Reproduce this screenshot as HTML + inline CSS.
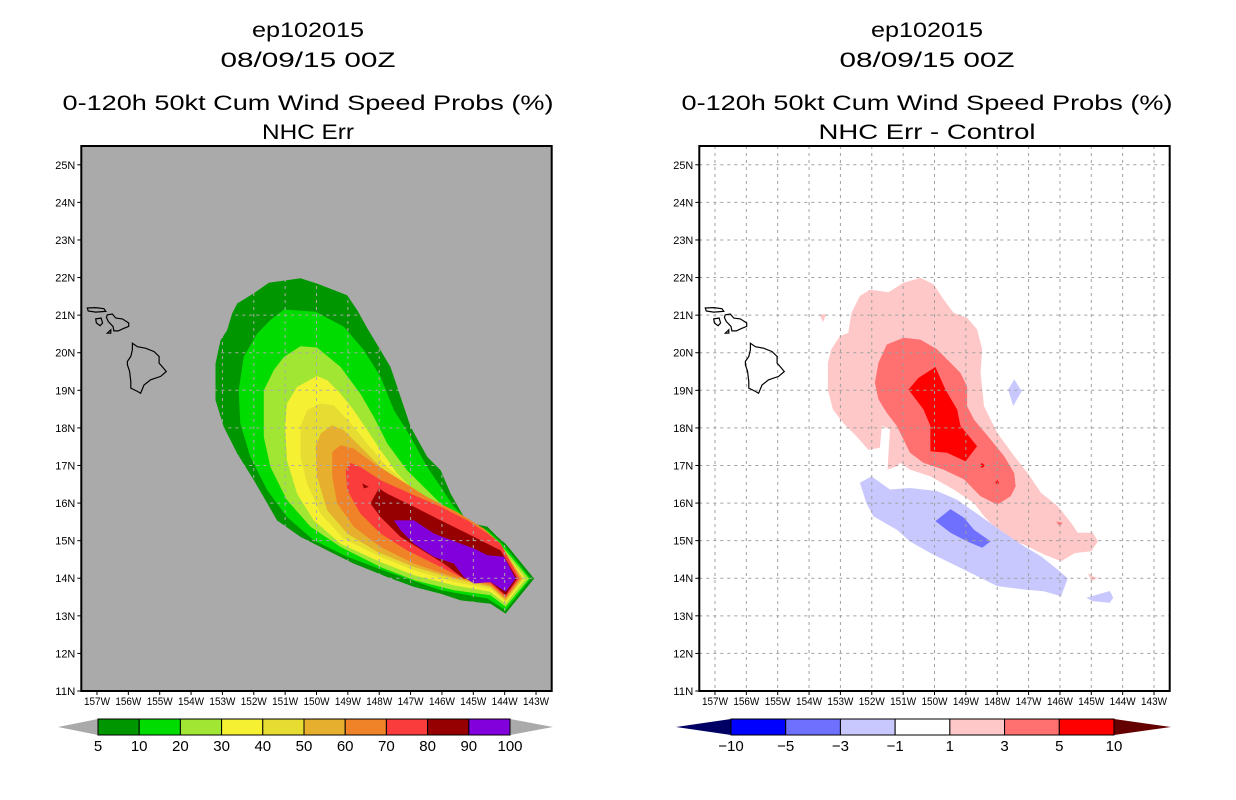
<!DOCTYPE html>
<html><head><meta charset="utf-8"><style>
html,body{margin:0;padding:0;background:#fff;}
svg{display:block;font-family:"Liberation Sans",sans-serif;}
</style></head><body>
<svg id="chart" width="1236" height="800" viewBox="0 0 1236 800" xmlns="http://www.w3.org/2000/svg">
<g font-size="21" text-anchor="middle">
<text x="308" y="37" textLength="112" lengthAdjust="spacingAndGlyphs">ep102015</text>
<text x="308" y="67" textLength="175" lengthAdjust="spacingAndGlyphs">08/09/15 00Z</text>
<text x="308" y="110" textLength="491" lengthAdjust="spacingAndGlyphs">0-120h 50kt Cum Wind Speed Probs (%)</text>
<text x="308" y="139" textLength="92" lengthAdjust="spacingAndGlyphs">NHC Err</text>
</g>
<g font-size="21" text-anchor="middle">
<text x="927" y="37" textLength="112" lengthAdjust="spacingAndGlyphs">ep102015</text>
<text x="927" y="67" textLength="175" lengthAdjust="spacingAndGlyphs">08/09/15 00Z</text>
<text x="927" y="110" textLength="491" lengthAdjust="spacingAndGlyphs">0-120h 50kt Cum Wind Speed Probs (%)</text>
<text x="927" y="139" textLength="217" lengthAdjust="spacingAndGlyphs">NHC Err - Control</text>
</g>
</svg>
<script>
// ---- data ----
const lonTicks = [157,156,155,154,153,152,151,150,149,148,147,146,145,144,143];
const latTicks = [11,12,13,14,15,16,17,18,19,20,21,22,23,24,25];
const probLevels = [5,10,20,30,40,50,60,70,80,90,100];
const probColors = ['#009600','#00dc00','#a0e632','#f5f032','#e6dc32','#e6af2d','#f08228','#fa3c3c','#960000','#8200dc'];
const diffLevels = ['-10','-5','-3','-1','1','3','5','10'];
const diffColors = ['#0000ff','#7070ff','#c8c8ff','#ffffff','#ffc8c8','#ff7070','#ff0000'];
// contour polygons [lonW, lat]
const prob5 = [[151.52,21.86],[150.51,21.98],[149.98,21.84],[149.02,21.53],[148.70,21.13],[148.38,20.65],[147.96,20.07],[147.64,19.62],[147.32,18.83],[147.00,18.03],[146.47,17.23],[146.04,16.87],[145.72,16.25],[145.30,15.63],[144.98,15.45],[144.55,15.37],[144.23,15.10],[143.97,14.92],[143.06,13.99],[143.97,13.06],[144.45,13.32],[145.40,13.41],[146.04,13.59],[146.89,13.77],[147.74,14.03],[148.81,14.39],[149.66,14.74],[150.51,15.10],[151.26,15.54],[151.57,15.99],[152.0,16.61],[152.53,17.32],[152.96,18.03],[153.22,18.74],[153.22,19.71],[153.06,20.33],[152.85,20.60],[152.69,21.04],[152.53,21.31],[152.0,21.58]];
const prob10 = [[151.04,21.15],[150.03,21.09],[149.13,20.69],[148.49,20.07],[147.96,19.36],[147.53,18.47],[147.0,17.76],[146.47,16.96],[146.04,16.43],[145.62,15.90],[145.19,15.54],[144.55,15.28],[144.02,14.88],[143.17,13.99],[143.97,13.15],[144.55,13.46],[146.04,13.68],[147.74,14.17],[149.02,14.57],[150.09,15.01],[150.94,15.63],[151.57,16.34],[152.11,17.23],[152.43,18.12],[152.48,19.0],[152.32,19.89],[151.89,20.51],[151.47,20.87]];
const prob20 = [[150.51,20.17],[149.98,20.14],[149.23,19.62],[148.60,18.91],[148.17,18.29],[147.74,17.58],[147.11,16.87],[146.47,16.34],[145.83,15.81],[145.19,15.45],[144.55,15.19],[144.07,14.83],[143.22,13.99],[143.97,13.24],[144.45,13.55],[145.62,13.68],[146.89,13.95],[147.96,14.30],[149.23,14.83],[150.19,15.37],[150.94,16.08],[151.47,16.96],[151.68,17.76],[151.68,19.0],[151.36,19.54],[151.04,19.89]];
const prob30 = [[149.98,19.38],[149.66,19.27],[149.23,18.91],[148.81,18.47],[148.38,17.94],[147.96,17.41],[147.43,16.79],[146.79,16.25],[146.04,15.81],[145.30,15.45],[144.55,15.10],[144.13,14.83],[143.33,13.99],[143.97,13.32],[144.45,13.64],[145.62,13.81],[146.89,14.08],[147.96,14.43],[149.23,14.92],[150.09,15.54],[150.62,16.25],[150.94,17.14],[151.0,18.03],[150.94,18.65],[150.62,19.09]];
const prob40 = [[149.87,18.65],[149.45,18.60],[148.91,18.12],[148.38,17.58],[147.74,16.96],[147.0,16.43],[146.26,15.99],[145.40,15.59],[144.66,15.19],[144.13,14.83],[143.38,13.99],[143.97,13.37],[144.45,13.72],[145.62,13.90],[146.89,14.21],[147.96,14.57],[149.13,15.05],[149.87,15.72],[150.30,16.52],[150.51,17.23],[150.51,18.03],[150.30,18.47]];
const prob50 = [[149.50,18.07],[149.13,17.94],[148.60,17.50],[147.96,16.96],[147.21,16.52],[146.36,16.08],[145.51,15.68],[144.66,15.28],[144.13,14.88],[143.43,13.99],[143.97,13.41],[144.45,13.77],[145.62,13.99],[146.89,14.30],[148.06,14.70],[149.02,15.19],[149.66,15.81],[149.98,16.70],[150.03,17.50],[149.87,17.85]];
const prob60 = [[149.23,17.54],[148.81,17.45],[148.17,17.05],[147.32,16.61],[146.47,16.16],[145.51,15.76],[144.66,15.32],[144.13,14.92],[143.49,13.99],[143.97,13.46],[144.45,13.81],[145.62,14.03],[146.89,14.39],[147.96,14.83],[148.81,15.37],[149.34,15.99],[149.50,16.70],[149.50,17.36]];
const prob70 = [[148.91,17.07],[148.60,16.96],[147.96,16.61],[147.0,16.25],[146.04,15.90],[145.19,15.54],[144.55,15.19],[144.13,14.92],[143.54,13.99],[143.97,13.50],[144.45,13.86],[145.40,14.03],[146.26,14.39],[147.11,14.74],[147.96,15.19],[148.60,15.72],[149.02,16.34],[149.07,16.87]];
const prob80 = [[148.01,16.39],[147.74,16.25],[146.89,15.90],[146.04,15.54],[145.19,15.19],[144.55,14.92],[144.13,14.74],[143.60,13.99],[143.97,13.55],[144.45,13.90],[145.30,13.99],[145.94,14.39],[146.47,14.66],[147.32,15.10],[147.96,15.63],[148.28,15.99]];
const prob80b = [[148.54,16.52],[148.33,16.43],[148.49,16.39]];
const prob90 = [[147.53,15.54],[146.89,15.54],[146.26,15.19],[145.40,14.92],[144.98,14.79],[144.55,14.61],[144.02,14.57],[143.65,13.99],[143.97,13.64],[144.45,13.90],[144.98,13.86],[145.30,14.03],[145.62,14.39],[146.26,14.57],[146.89,14.92],[147.32,15.28]];
const diffPos1 = [[152.06,21.68],[151.47,21.61],[150.99,21.86],[150.45,21.99],[150.03,21.82],[149.71,21.42],[149.39,21.06],[148.96,20.93],[148.64,20.62],[148.48,20.09],[148.53,19.46],[148.42,18.58],[148.0,17.87],[147.46,17.25],[147.03,16.80],[146.60,16.27],[146.07,15.92],[145.64,15.47],[145.43,15.21],[144.95,15.21],[144.79,14.98],[145.0,14.72],[145.53,14.67],[145.96,14.45],[146.50,14.63],[147.14,14.89],[147.57,15.03],[148.0,15.29],[148.42,15.65],[148.74,16.0],[149.39,16.36],[150.13,16.71],[150.78,16.89],[151.10,17.07],[151.20,16.98],[151.50,16.89],[151.42,17.96],[151.68,18.05],[151.74,17.47],[152.11,17.42],[152.49,17.78],[152.91,18.13],[153.24,18.49],[153.40,19.02],[153.40,19.73],[153.29,20.09],[153.02,20.44],[152.75,20.53],[152.65,21.06],[152.38,21.51]];
const diffPos1b = [[153.66,21.02],[153.45,21.02],[153.56,20.81]];
const diffPos1c = [[145.11,14.14],[144.95,14.05],[144.79,14.01],[145.0,13.92]];
const diffPos3 = [[151.52,20.22],[150.99,20.40],[150.45,20.35],[149.92,20.09],[149.49,19.73],[149.17,19.46],[148.96,19.11],[148.96,18.58],[148.74,18.22],[148.21,17.69],[147.78,17.25],[147.46,16.80],[147.41,16.45],[147.57,16.18],[148.0,15.96],[148.53,16.18],[149.06,16.63],[149.71,16.89],[150.35,17.07],[150.78,17.34],[150.99,17.69],[151.20,18.05],[151.52,18.40],[151.79,18.76],[151.90,19.20],[151.79,19.73]];
const diffPos3b = [[146.12,15.51],[145.91,15.47],[146.02,15.40]];
const diffPos5 = [[150.83,19.02],[150.51,19.33],[149.97,19.62],[149.65,19.02],[149.28,18.49],[149.17,18.05],[148.90,17.78],[148.64,17.51],[149.01,17.11],[149.60,17.34],[150.13,17.38],[150.13,18.05],[150.35,18.49]];
const diffPos5b = [[148.56,17.0],[148.48,17.07],[148.40,17.0],[148.48,16.93]];
const diffPos5c = [[148.06,16.54],[148.0,16.61],[147.94,16.54],[148.0,16.47]];
const diffNeg1 = [[152.38,16.54],[152.01,16.71],[151.42,16.36],[150.78,16.40],[149.92,16.32],[149.28,16.09],[148.53,15.65],[147.78,15.21],[147.14,14.85],[146.60,14.58],[146.07,14.23],[145.75,14.0],[145.96,13.52],[146.50,13.65],[147.14,13.70],[148.0,13.79],[148.53,14.01],[149.28,14.32],[150.13,14.67],[150.78,14.98],[151.20,15.29],[151.95,15.65],[152.17,16.0]];
const diffNeg1b = [[147.46,19.29],[147.22,18.98],[147.49,18.58],[147.65,19.02]];
const diffNeg1c = [[145.16,13.48],[144.41,13.66],[144.30,13.48],[144.41,13.35],[144.95,13.39]];
const diffNeg3 = [[149.97,15.52],[149.49,15.84],[149.06,15.61],[148.74,15.29],[148.21,14.98],[148.48,14.81],[148.96,14.98],[149.49,15.21]];
const bigIsland = [[155.87,20.25],[155.71,20.16],[155.45,20.12],[155.18,20.03],[155.02,19.90],[155.02,19.72],[154.92,19.63],[154.79,19.50],[154.97,19.37],[155.29,19.28],[155.50,19.14],[155.61,18.92],[155.71,18.97],[155.92,19.06],[155.92,19.23],[155.96,19.50],[156.03,19.68],[156.03,19.77],[155.92,19.90],[155.87,20.08]];
const maui = [[156.67,21.01],[156.51,21.03],[156.40,20.92],[156.19,20.90],[155.99,20.79],[155.99,20.70],[156.14,20.65],[156.32,20.58],[156.46,20.58],[156.49,20.70],[156.64,20.83],[156.70,20.94]];
const molokai = [[157.31,21.19],[157.04,21.20],[156.78,21.17],[156.72,21.10],[157.04,21.08],[157.28,21.11]];
const lanai = [[157.04,20.90],[156.87,20.92],[156.82,20.79],[156.90,20.72],[157.02,20.79]];
const kahoolawe = [[156.67,20.52],[156.56,20.61],[156.56,20.52]];

// ---- rendering ----
const NS='http://www.w3.org/2000/svg';
const svg=document.getElementById('chart');
const LON0=157.5, LON1=142.5, LAT0=11, LAT1=25.5;
const BOX_W=470.4, BOX_Y0=146, BOX_Y1=691;
function mk(tag,attrs,parent){const e=document.createElementNS(NS,tag);for(const k in attrs)e.setAttribute(k,attrs[k]);(parent||svg).appendChild(e);return e;}
function makeAxes(x0){
  return {
    x: lw => x0 + (LON0-lw)/(LON0-LON1)*BOX_W,
    y: la => BOX_Y1 - (la-LAT0)/(LAT1-LAT0)*(BOX_Y1-BOX_Y0)
  };
}
function poly(ax,pts,fill,parent,name,stroke){
  const p=mk('polygon',{points:pts.map(q=>ax.x(q[0]).toFixed(1)+','+ax.y(q[1]).toFixed(1)).join(' '),fill:fill,stroke:stroke||'none'},parent);
  
  
  return p;
}
function panel(x0,bg,name,contours,gridColor,cbar){
  const ax=makeAxes(x0);
  const g=mk('g',{});
  
  
  const clipId='clip'+Math.round(x0);
  const cp=mk('clipPath',{id:clipId},g);
  mk('rect',{x:x0,y:BOX_Y0,width:BOX_W,height:BOX_Y1-BOX_Y0},cp);
  const bgR=mk('rect',{x:x0,y:BOX_Y0,width:BOX_W,height:BOX_Y1-BOX_Y0,fill:bg},g);
  
  
  const cg=mk('g',{'clip-path':'url(#'+clipId+')'},g);
  
  
  contours.forEach(c=>poly(ax,c.pts,c.color,cg,c.name));
  const gg=mk('g',{stroke:gridColor,'stroke-width':1,'stroke-dasharray':'3,4'},g);
  
  
  lonTicks.forEach(l=>{const X=ax.x(l);const ln=mk('line',{x1:X,x2:X,y1:BOX_Y0,y2:BOX_Y1},gg);});
  latTicks.slice(1).forEach(l=>{const Y=ax.y(l);const ln=mk('line',{x1:x0,x2:x0+BOX_W,y1:Y,y2:Y},gg);});
  const ig=mk('g',{fill:'none',stroke:'#000','stroke-width':1.2},g);
  
  
  [bigIsland,maui,molokai,lanai,kahoolawe].forEach((p,i)=>poly(ax,p,'none',ig,'island-'+i,'#000'));
  const bx=mk('rect',{x:x0,y:BOX_Y0,width:BOX_W,height:BOX_Y1-BOX_Y0,fill:'none',stroke:'#000','stroke-width':2},g);
  
  
  const xa=mk('g',{'font-size':11,'text-anchor':'middle'},g);
  
  
  lonTicks.forEach(l=>{const X=ax.x(l);mk('line',{x1:X,x2:X,y1:BOX_Y1,y2:BOX_Y1+4,stroke:'#000'},xa);
    const t=mk('text',{x:X,y:BOX_Y1+14,textLength:26,lengthAdjust:'spacingAndGlyphs'},xa);t.textContent=l+'W';
    });
  const ya=mk('g',{'font-size':11,'text-anchor':'end'},g);
  
  
  latTicks.forEach(l=>{const Y=ax.y(l);mk('line',{x1:x0-4,x2:x0,y1:Y,y2:Y,stroke:'#000'},ya);
    const t=mk('text',{x:x0-6,y:Y+4,textLength:20,lengthAdjust:'spacingAndGlyphs'},ya);t.textContent=l+'N';
    });
  // colorbar
  const cb=mk('g',{},g);
  
  
  const y0=719,y1=735,ym=727,n=cbar.colors.length,w=(cbar.x1-cbar.x0)/n;
  const lt=mk('polygon',{points:`${cbar.x0},${y0} ${cbar.x0},${y1} ${cbar.tl},${ym}`,fill:cbar.left},cb);
  
  const rt=mk('polygon',{points:`${cbar.x1},${y0} ${cbar.x1},${y1} ${cbar.tr},${ym}`,fill:cbar.right},cb);
  
  cbar.colors.forEach((c,i)=>{const r=mk('rect',{x:cbar.x0+i*w,y:y0,width:w,height:y1-y0,fill:c,stroke:'#000','stroke-width':1},cb);
    });
  cbar.labels.forEach((lab,i)=>{const X=cbar.x0+i*w+(cbar.offset||0)*w;const t=mk('text',{x:X,y:751,'font-size':15,'text-anchor':'middle'},cb);t.textContent=String(lab).replace('-','\u2212');
    });
}
panel(81.3,'#aaaaaa','left-panel-nhc-err',[
  {pts:prob5,color:probColors[0],name:'contour-5'},{pts:prob10,color:probColors[1],name:'contour-10'},
  {pts:prob20,color:probColors[2],name:'contour-20'},{pts:prob30,color:probColors[3],name:'contour-30'},
  {pts:prob40,color:probColors[4],name:'contour-40'},{pts:prob50,color:probColors[5],name:'contour-50'},
  {pts:prob60,color:probColors[6],name:'contour-60'},{pts:prob70,color:probColors[7],name:'contour-70'},
  {pts:prob80,color:probColors[8],name:'contour-80'},{pts:prob80b,color:probColors[8],name:'contour-80-spot'},
  {pts:prob90,color:probColors[9],name:'contour-90'}],'#aaaaaa',
  {x0:98,x1:510,tl:58,tr:553,left:'#aaaaaa',right:'#aaaaaa',colors:probColors,labels:probLevels,offset:0});
panel(699.3,'#ffffff','right-panel-difference',[
  {pts:diffPos1,color:diffColors[4],name:'diff-pos-1'},{pts:diffPos1b,color:diffColors[4],name:'diff-pos-1-spot'},
  {pts:diffPos1c,color:diffColors[4],name:'diff-pos-1-spot2'},{pts:diffPos3,color:diffColors[5],name:'diff-pos-3'},
  {pts:diffPos3b,color:diffColors[5],name:'diff-pos-3-spot'},{pts:diffPos5,color:diffColors[6],name:'diff-pos-5'},
  {pts:diffPos5b,color:diffColors[6],name:'diff-pos-5-spot'},{pts:diffPos5c,color:diffColors[6],name:'diff-pos-5-spot2'},
  {pts:diffNeg1,color:diffColors[2],name:'diff-neg-1'},{pts:diffNeg1b,color:diffColors[2],name:'diff-neg-1-spot'},
  {pts:diffNeg1c,color:diffColors[2],name:'diff-neg-1-spot2'},{pts:diffNeg3,color:diffColors[1],name:'diff-neg-3'}],'#a0a0a0',
  {x0:731,x1:1114,tl:676,tr:1171,left:'#000064',right:'#640000',colors:diffColors,labels:diffLevels,offset:0});
</script>
</body></html>
